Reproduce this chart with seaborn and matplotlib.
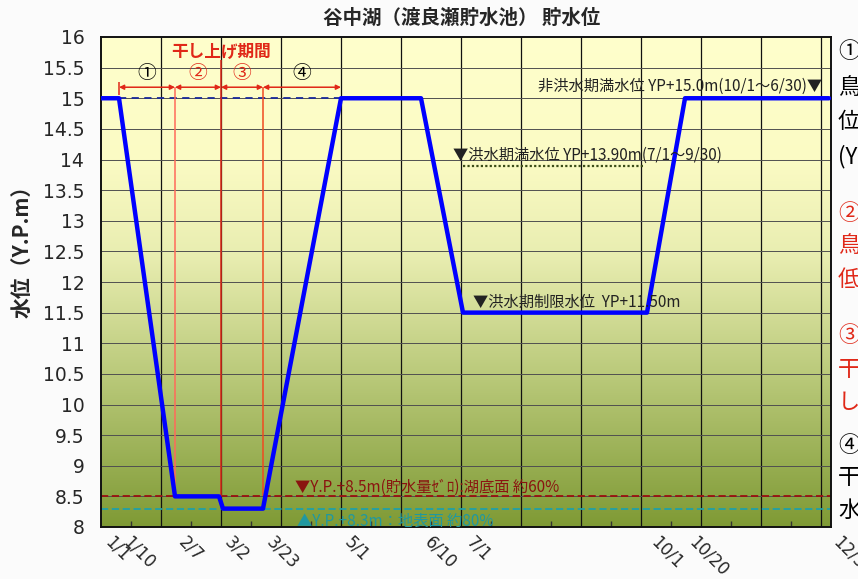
import numpy as np
import pandas as pd
import matplotlib
matplotlib.use("Agg")
import matplotlib.pyplot as plt
from matplotlib.colors import LinearSegmentedColormap
import seaborn as sns

# 貯水位の折れ点 (月/日, Y.P.m)
level_dates = ["1/1", "1/10", "2/7", "3/1", "3/3", "3/23", "5/1", "6/10", "7/1", "10/1", "10/20", "12/31"]
level_values = [15.0, 15.0, 8.5, 8.5, 8.3, 8.3, 15.0, 15.0, 11.5, 11.5, 15.0, 15.0]

# x軸の目盛ラベル
tick_dates = ["1/1", "1/10", "2/7", "3/2", "3/23", "5/1", "6/10", "7/1", "10/1", "10/20", "12/31"]

# 干し上げ期間の区切り
period_dates = ["1/10", "2/7", "3/2", "3/23", "5/1"]
period_labels = ["①", "②", "③", "④"]

# 基準水位
full_level = 15.0
flood_full_level = 13.9
flood_full_dates = ["7/1", "9/30"]
flood_limit_level = 11.5
zero_storage_level = 8.5
ground_level = 8.3


def to_day(s):
    """月/日 を 1/1 からの日数にする"""
    return (pd.to_datetime("2021/" + s) - pd.Timestamp("2021-01-01")).days


df = pd.DataFrame({"day": [to_day(d) for d in level_dates], "level": level_values})
ticks = [to_day(d) for d in tick_dates]
periods = [to_day(d) for d in period_dates]

sns.set_theme(style="white")
plt.rcParams["font.family"] = ["Noto Sans CJK JP", "DejaVu Sans"]

fig = plt.figure(figsize=(8.58, 5.79), dpi=100)
fig.patch.set_facecolor("#fbfbfb")
ax = fig.add_axes([101 / 858, 1 - 527 / 579, 730 / 858, 490 / 579])

# 背景のグラデーション (上: 淡黄, 下: 緑)
cmap = LinearSegmentedColormap.from_list(
    "bg", [(0.0, "#7f9a35"), (0.3, "#b8c878"), (0.55, "#e8edb0"), (0.75, "#fbfbc4"), (1.0, "#ffffcc")])
grad = np.linspace(0, 1, 256).reshape(-1, 1)
ax.imshow(grad, extent=[0, 365, 8, 16], aspect="auto", cmap=cmap, origin="lower", zorder=0)

# グリッド
ax.vlines(range(30, 365, 30), 8, 16, color="#111111", lw=0.9, zorder=1)
ax.hlines(np.arange(8.5, 16, 0.5), 0, 365, color="#505050", lw=0.7, zorder=1)

# 基準線
ax.hlines(zero_storage_level, 0, 365, color="#9a1010", lw=1.3, ls=(0, (4, 2)), zorder=2)
ax.hlines(ground_level, 0, 365, color="#20a0a8", lw=1.3, ls=(0, (4, 2)), zorder=2)
ax.hlines(flood_full_level, to_day(flood_full_dates[0]), to_day(flood_full_dates[1]),
          color="#3d4d18", lw=1.6, ls=(0, (1, 1)), zorder=2)
ax.hlines(full_level, periods[0], periods[-1], color="#1a2a9a", lw=1.3, ls=(0, (4, 3)), zorder=2)

# 干し上げ期間の縦線と矢印
ax.vlines(periods[1], zero_storage_level, 15.18, color="#ff6a5a", lw=1.1, zorder=3)
ax.vlines(periods[2], zero_storage_level, 15.62, color="#e02818", lw=1.1, zorder=3)
ax.vlines(periods[3], zero_storage_level, 15.18, color="#f04a20", lw=1.1, zorder=3)
ax.vlines(periods[0], 15.05, 15.27, color="#e02818", lw=1.1, zorder=3)
for i, lab in enumerate(period_labels):
    ax.annotate("", xy=(periods[i], 15.18), xytext=(periods[i + 1], 15.18),
                arrowprops=dict(arrowstyle="<|-|>", color="#e02818", lw=1.1,
                                shrinkA=0, shrinkB=0, mutation_scale=7), zorder=3)
    col = "black" if i in (0, 3) else "#e02818"
    ax.text((periods[i] + periods[i + 1]) / 2, 15.4, lab, color=col, fontsize=13.5,
            ha="center", va="center", zorder=5)
ax.text(periods[2], 15.76, "干し上げ期間", color="#e02818", fontsize=12, fontweight="bold",
        ha="center", va="center", zorder=5)

# 貯水位
sns.lineplot(data=df, x="day", y="level", color="#0000ff", lw=3.2, estimator=None,
             sort=False, ax=ax, zorder=4)

# 注記
note_size = 11
ax.text(360.5, 15.2, "非洪水期満水位 YP+15.0m(10/1～6/30)▼", fontsize=note_size, color="#222222",
        ha="right", va="center", zorder=5)
ax.text(176, 14.07, "▼洪水期満水位 YP+13.90m(7/1～9/30)", fontsize=note_size, color="#222222",
        ha="left", va="center", zorder=5)
ax.text(186, 11.67, "▼洪水期制限水位  YP+11.50m", fontsize=note_size, color="#222222",
        ha="left", va="center", zorder=5)
ax.text(97, 8.64, "▼Y.P.+8.5m(貯水量ｾﾞﾛ):湖底面 約60%", fontsize=note_size, color="#8a1410",
        ha="left", va="center", zorder=5)
ax.text(98, 8.1, "▲Y.P.+8.3m：地表面 約80%", fontsize=note_size, color="#2098a0",
        ha="left", va="center", zorder=5)

# 軸
ax.set_xlim(0, 365)
ax.set_ylim(8, 16)
ax.set_yticks(np.arange(8, 16.01, 0.5))
ax.set_yticklabels([f"{v:g}" for v in np.arange(8, 16.01, 0.5)], fontsize=13.5,
                   family=["Liberation Sans Narrow", "DejaVu Sans"])
ax.set_xticks(ticks)
ax.set_xticklabels(tick_dates, rotation=-45, ha="left", va="top", fontsize=12,
                   family=["Liberation Sans Narrow", "DejaVu Sans"])
ax.set_xticks(range(15, 365, 30), minor=True)
ax.tick_params(axis="x", which="major", length=0, pad=4)
ax.tick_params(axis="x", which="minor", direction="in", length=4, color="#333333", bottom=True)
ax.tick_params(axis="y", length=0, pad=12)
ax.set_xlabel("")
ax.set_ylabel("")
for sp in ax.spines.values():
    sp.set_color("#111111")
    sp.set_linewidth(1.4)

fig.text(462 / 858, 1 - 18 / 579, "谷中湖（渡良瀬貯水池） 貯水位", fontsize=14, fontweight="bold",
         ha="center", va="center")
fig.text(22 / 858, 1 - 246 / 579, "水位（Y.P.m）", fontsize=15, fontweight="bold",
         rotation=90, ha="center", va="center")

# 右側の説明文 (画面外に切れている)
side_text = [("①", 52, "black"), ("鳥", 88, "black"), ("位", 121, "black"), ("(Y", 157, "black"),
             ("②", 213, "#e02818"), ("鳥", 246, "#e02818"), ("低", 280, "#e02818"),
             ("③", 335, "#e02818"), ("干", 369, "#e02818"), ("し", 402, "#e02818"),
             ("④", 445, "black"), ("干", 478, "black"), ("水", 510, "black")]
for s, yp, c in side_text:
    fig.text(838 / 858, 1 - yp / 579, s, fontsize=16, color=c, ha="left", va="center")

fig.savefig("out.png", dpi=100, facecolor=fig.get_facecolor())
